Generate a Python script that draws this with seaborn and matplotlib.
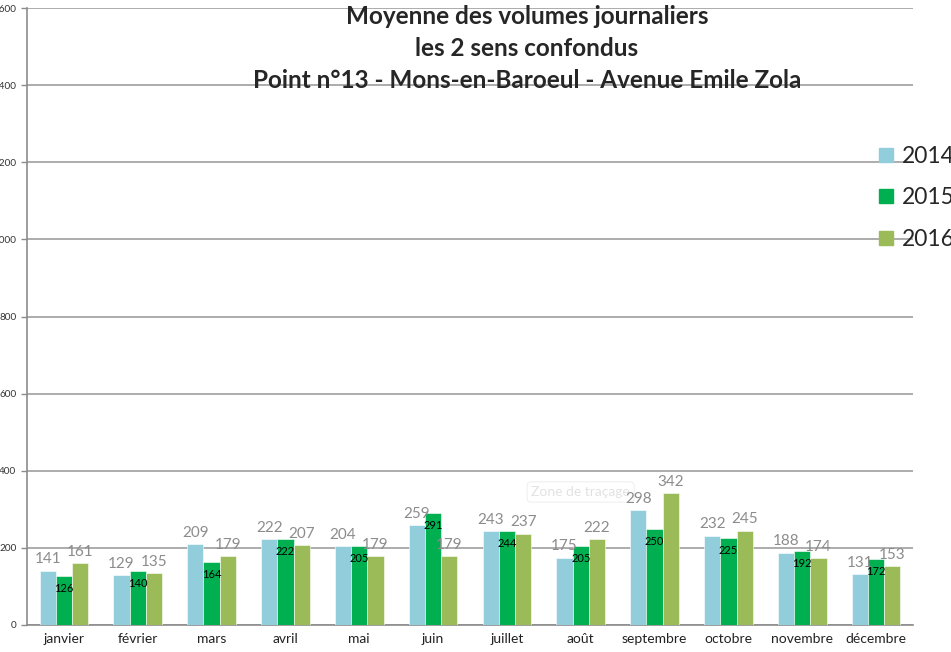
import numpy as np
import pandas as pd
import seaborn as sns
from matplotlib import pyplot as plt
from matplotlib.lines import Line2D

# Data
months = ['janvier', 'février', 'mars', 'avril', 'mai', 'juin', 'juillet',
          'août', 'septembre', 'octobre', 'novembre', 'décembre']
years = ['2014', '2015', '2016']
v2014 = [141, 129, 209, 222, 204, 259, 243, 175, 298, 232, 188, 131]
v2015 = [126, 140, 164, 222, 205, 291, 244, 205, 250, 225, 192, 172]
v2016 = [161, 135, 179, 207, 179, 179, 237, 222, 342, 245, 174, 153]
yticks = [0, 200, 400, 600, 800, 1000, 1200, 1400, 1600]
colors = ['#92CDDC', '#00B050', '#9BBB59']

df = pd.DataFrame({
    'mois': months * 3,
    'annee': [years[0]] * 12 + [years[1]] * 12 + [years[2]] * 12,
    'volume': v2014 + v2015 + v2016,
})

sns.set_style('white')
plt.rcParams['font.family'] = ['Lato', 'DejaVu Sans']

fig = plt.figure(figsize=(9.51, 6.52), dpi=100)
ax = fig.add_axes([27 / 951, 1 - 625 / 652, (913 - 27) / 951, (625 - 8) / 652])

sns.barplot(data=df, x='mois', y='volume', hue='annee', order=months,
            hue_order=years, palette=colors, saturation=1, width=0.66, ax=ax,
            edgecolor='white', linewidth=0.4, legend=False, errorbar=None,
            zorder=3)

ax.set_ylim(0, 1600)
ax.set_xlim(-0.5, 11.5)
ax.set_yticks(yticks)
ax.set_yticklabels([str(t) for t in yticks], fontsize=7.2, color='#333333')
ax.yaxis.grid(True, color='#a6a6a6', linewidth=1.3, zorder=0)
ax.set_axisbelow(True)
ax.set_xlabel('')
ax.set_ylabel('')

ax.set_xticks(range(12))
ax.set_xticklabels(months, fontsize=10, color='#222222')
ax.set_xticks(np.arange(-0.5, 12, 1), minor=True)
ax.tick_params(axis='x', which='major', length=0, pad=6)
ax.tick_params(axis='x', which='minor', length=4, color='#8c8c8c', width=1)
ax.tick_params(axis='y', length=4, color='#8c8c8c', width=1, pad=3.5, left=True)

for s in ['top', 'right']:
    ax.spines[s].set_visible(False)
for s in ['left', 'bottom']:
    ax.spines[s].set_color('#8c8c8c')
    ax.spines[s].set_linewidth(1.2)

# data labels
ax.bar_label(ax.containers[0], padding=3, fontsize=11, color='#8c8c8c')
ax.bar_label(ax.containers[1], padding=-13, fontsize=8, color='black')
ax.bar_label(ax.containers[2], padding=3, fontsize=11, color='#8c8c8c')

# faint tooltip left by the spreadsheet
ax.text(6.33, 345, 'Zone de traçage', fontsize=10, color='#e2e2e2',
        va='center', ha='left', zorder=1,
        bbox=dict(boxstyle='round,pad=0.3', fc='white', ec='#f0f0f0', lw=0.8))

# title
title_lines = ['Moyenne des volumes journaliers', 'les 2 sens confondus',
               'Point n°13 - Mons-en-Baroeul - Avenue Emile Zola']
for line, ypix in zip(title_lines, [17, 48, 80]):
    fig.text(527 / 951, 1 - ypix / 652, line, ha='center', va='center',
             fontsize=17.5, fontweight='bold')

# legend
handles = [Line2D([], [], marker='s', linestyle='none', markersize=10,
                  markerfacecolor=c, markeredgecolor=c) for c in colors]
fig.legend(handles, years, loc='center left', bbox_to_anchor=(0.91, 1 - 198 / 652),
           frameon=False, fontsize=16.5, handletextpad=0.2, labelspacing=0.9,
           handlelength=1.0, borderaxespad=0)

fig.savefig('out.png', dpi=100)
